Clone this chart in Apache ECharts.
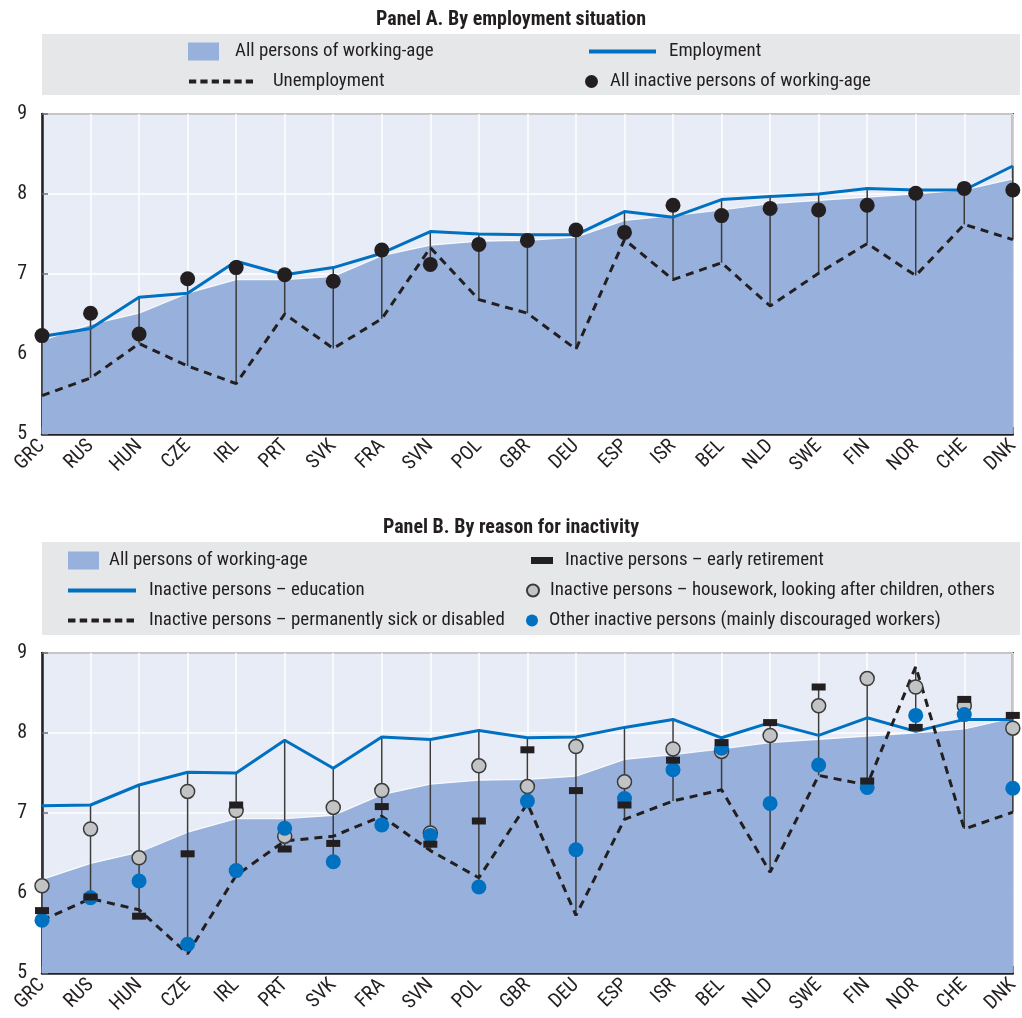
<!DOCTYPE html>
<html>
<head>
<meta charset="utf-8">
<script src="https://cdn.jsdelivr.net/npm/echarts@6/dist/echarts.min.js"></script>
<style>
html,body{margin:0;padding:0;background:#fff;}
#chart{width:1022px;height:1018px;}
</style>
</head>
<body>
<div id="chart"></div>
<script>
const categories = ['GRC','RUS','HUN','CZE','IRL','PRT','SVK','FRA','SVN','POL','GBR','DEU','ESP','ISR','BEL','NLD','SWE','FIN','NOR','CHE','DNK'];
const yTicks = [5, 6, 7, 8, 9];

// Panel A
const allPersons = [6.17,6.37,6.51,6.76,6.93,6.93,6.97,7.23,7.36,7.41,7.42,7.46,7.67,7.73,7.80,7.88,7.92,7.96,8.00,8.05,8.19];
const employment = [6.22,6.32,6.71,6.76,7.16,6.99,7.08,7.26,7.53,7.50,7.49,7.49,7.78,7.71,7.93,7.97,8.00,8.07,8.05,8.05,8.35];
const unemployment = [5.48,5.70,6.13,5.85,5.63,6.50,6.07,6.44,7.33,6.68,6.51,6.06,7.43,6.93,7.14,6.60,7.01,7.38,6.98,7.62,7.43];
const inactiveAll = [6.23,6.51,6.25,6.94,7.08,6.99,6.91,7.30,7.12,7.37,7.42,7.55,7.52,7.86,7.73,7.82,7.80,7.86,8.01,8.07,8.05];

// Panel B
const education = [7.09,7.10,7.35,7.51,7.50,7.91,7.56,7.95,7.92,8.03,7.94,7.95,8.07,8.17,7.94,8.13,7.97,8.19,8.02,8.17,8.17];
const sickDisabled = [5.66,5.93,5.79,5.24,6.22,6.65,6.71,6.96,6.53,6.19,7.12,5.72,6.92,7.15,7.29,6.26,7.47,7.35,8.83,6.80,7.01];
const earlyRetirement = [5.78,5.95,5.71,6.49,7.10,6.55,6.62,7.08,6.61,6.90,7.79,7.28,7.10,7.66,7.88,8.13,8.575,7.40,8.07,8.42,8.22];
const housework = [6.09,6.80,6.44,7.27,7.03,6.71,7.07,7.28,6.75,7.59,7.33,7.83,7.39,7.80,7.77,7.97,8.34,8.68,8.575,8.34,8.06];
const otherInactive = [5.66,5.94,6.15,5.36,6.28,6.81,6.39,6.85,6.72,6.075,7.15,6.54,7.18,7.54,7.81,7.12,7.60,7.32,8.22,8.23,7.31];

// ---- font choice: prefer a condensed face, size fitted to the reference text widths
const ctx = document.createElement('canvas').getContext('2d');
function available(name) {
  const t = 'abcdefghijklmnopqrstuvwxyz ABCDEFGHIJKLM 0123456789';
  for (const fb of ['monospace', 'serif']) {
    ctx.font = '40px ' + fb; const w1 = ctx.measureText(t).width;
    ctx.font = "40px '" + name + "', " + fb; const w2 = ctx.measureText(t).width;
    if (Math.abs(w1 - w2) > 0.5) return true;
  }
  return false;
}
const candidates = ['Roboto Condensed', 'DejaVu Sans Condensed', 'Liberation Sans Narrow', 'Arial Narrow', 'Roboto'];
const family = candidates.find(available) || 'sans-serif';
const FONT = "'" + family + "', sans-serif";
function fitSize(text, target, weight) {
  ctx.font = (weight || 'normal') + ' 100px ' + FONT;
  return 100 * target / ctx.measureText(text).width;
}
const legendSize = fitSize('Inactive persons – housework, looking after children, others', 445);
const titleSize = fitSize('Panel A. By employment situation', 270, 'bold');
const scale = legendSize / 18;
const axisSize = 19 * scale;

const DARK = '#231f20';
const AREA = '#97b1dc';
const BLUE = '#0070c0';
const PLOTBG = '#e8ecf6';

// legend icons (shapes only, scaled to itemWidth x itemHeight)
const SOLID_ICON = 'path://M0,0H60V1H0Z';
const DASH_ICON = 'path://M0,0h7v1h-7z M11,0h7v1h-7z M22,0h7v1h-7z M33,0h7v1h-7z M44,0h7v1h-7z M55,0h7v1h-7z';

function rangeData(seriesList) {
  return categories.map((c, i) => {
    const vals = seriesList.map(s => s[i]);
    return [i, Math.min(...vals), Math.max(...vals)];
  });
}

function rangeSeries(idx, seriesList) {
  return {
    type: 'custom', xAxisIndex: idx, yAxisIndex: idx, z: 3, silent: true,
    encode: { x: 0, y: [1, 2] },
    data: rangeData(seriesList),
    renderItem: function (params, api) {
      const x = api.value(0);
      const p1 = api.coord([x, api.value(1)]);
      const p2 = api.coord([x, api.value(2)]);
      return { type: 'line', shape: { x1: p1[0], y1: p1[1], x2: p2[0], y2: p2[1] },
        style: { stroke: '#3b3b3b', lineWidth: 1.5 } };
    }
  };
}

function xAxis(idx) {
  return {
    type: 'category', gridIndex: idx, data: categories, boundaryGap: false,
    axisLine: { show: true, lineStyle: { color: DARK, width: 2.5 } },
    axisTick: { show: true, inside: true, length: 7, lineStyle: { color: '#6d6e71', width: 1.5 } },
    axisLabel: { rotate: 45, fontSize: axisSize, color: DARK, fontFamily: FONT, margin: 9, interval: 0 },
    splitLine: { show: true, lineStyle: { color: '#ffffff', width: 1.5 } }
  };
}
function yAxis(idx) {
  return {
    type: 'value', gridIndex: idx, min: 5, max: 9, interval: 1,
    axisLine: { show: true, lineStyle: { color: DARK, width: 2.5 } },
    axisTick: { show: true, inside: true, length: 6, lineStyle: { color: '#6d6e71', width: 1.5 } },
    axisLabel: { fontSize: axisSize, color: DARK, fontFamily: FONT, margin: 15,
      formatter: v => (yTicks.indexOf(v) >= 0 ? String(v) : '') },
    splitLine: { show: true, lineStyle: { color: '#ffffff', width: 1.5 } }
  };
}

function leg(left, top, item, opts) {
  return Object.assign({
    left: left, top: top, padding: 0, selectedMode: false, orient: 'horizontal',
    symbolKeepAspect: false,
    data: [Object.assign({ symbolKeepAspect: false }, item)]
  }, opts || {});
}
function legPad(p) { return { fontSize: legendSize, color: DARK, fontFamily: FONT, padding: [0, 0, 0, p] }; }

const NAME_ALL = 'All persons of working-age';
const NAME_ALL_B = 'All persons of working-age ';

const option = {
  animation: false,
  backgroundColor: '#ffffff',
  title: [
    { text: 'Panel A. By employment situation', left: 'center', top: 5,
      textStyle: { fontSize: titleSize, fontWeight: 'bold', color: DARK, fontFamily: FONT } },
    { text: 'Panel B. By reason for inactivity', left: 'center', top: 513,
      textStyle: { fontSize: titleSize, fontWeight: 'bold', color: DARK, fontFamily: FONT } }
  ],
  graphic: [
    { type: 'rect', left: 42, top: 34, shape: { width: 978, height: 61 }, style: { fill: '#e6e7e8' }, z: -10 },
    { type: 'rect', left: 42, top: 542, shape: { width: 978, height: 93 }, style: { fill: '#e6e7e8' }, z: -10 }
  ],
  legend: [
    // Panel A
    leg(188, 42, { name: NAME_ALL, icon: 'rect', itemStyle: { color: AREA, borderWidth: 0 } },
      { itemWidth: 31, itemHeight: 18, textStyle: legPad(11) }),
    leg(589, 42, { name: 'Employment', icon: SOLID_ICON, itemStyle: { color: BLUE, borderWidth: 0 } },
      { itemWidth: 67, itemHeight: 4, textStyle: legPad(8) }),
    leg(189, 72, { name: 'Unemployment', icon: DASH_ICON, itemStyle: { color: DARK, borderWidth: 0 } },
      { itemWidth: 64, itemHeight: 4, textStyle: legPad(15) }),
    leg(585, 72, { name: 'All inactive persons of working-age', icon: 'circle' }, { itemWidth: 13, itemHeight: 13, textStyle: legPad(7) }),
    // Panel B
    leg(68, 551, { name: NAME_ALL_B, icon: 'rect', itemStyle: { color: AREA, borderWidth: 0 } },
      { itemWidth: 31, itemHeight: 18, textStyle: legPad(5) }),
    leg(68, 581, { name: 'Inactive persons – education', icon: SOLID_ICON, itemStyle: { color: BLUE, borderWidth: 0 } },
      { itemWidth: 68, itemHeight: 4, textStyle: legPad(8) }),
    leg(68, 611, { name: 'Inactive persons – permanently sick or disabled', icon: DASH_ICON, itemStyle: { color: DARK, borderWidth: 0 } },
      { itemWidth: 66, itemHeight: 4, textStyle: legPad(10) }),
    leg(531, 551, { name: 'Inactive persons – early retirement', icon: 'rect' }, { itemWidth: 22, itemHeight: 7, textStyle: legPad(7) }),
    leg(526, 581, { name: 'Inactive persons – housework, looking after children, others', icon: 'circle' }, { itemWidth: 12, itemHeight: 12, textStyle: legPad(6) }),
    leg(526, 611, { name: 'Other inactive persons (mainly discouraged workers)', icon: 'circle' }, { itemWidth: 12, itemHeight: 12, textStyle: legPad(6) })
  ],
  grid: [
    { left: 42, right: 2, top: 114, height: 320, show: true, backgroundColor: PLOTBG, borderColor: DARK, borderWidth: 2 },
    { left: 42, right: 2, top: 653, height: 320, show: true, backgroundColor: PLOTBG, borderColor: DARK, borderWidth: 2 }
  ],
  xAxis: [xAxis(0), xAxis(1)],
  yAxis: [yAxis(0), yAxis(1)],
  series: [
    // Panel A
    { name: NAME_ALL, type: 'line', xAxisIndex: 0, yAxisIndex: 0, data: allPersons, z: 1,
      symbol: 'none', lineStyle: { color: 'rgba(255,255,255,0.85)', width: 1.2 },
      itemStyle: { color: AREA }, areaStyle: { color: AREA, opacity: 1 } },
    rangeSeries(0, [employment, unemployment, inactiveAll]),
    { name: 'Employment', type: 'line', xAxisIndex: 0, yAxisIndex: 0, data: employment, z: 4,
      symbol: 'none', lineStyle: { color: BLUE, width: 3 }, itemStyle: { color: BLUE } },
    { name: 'Unemployment', type: 'line', xAxisIndex: 0, yAxisIndex: 0, data: unemployment, z: 4,
      symbol: 'none', lineStyle: { color: DARK, width: 3, type: [8, 6] }, itemStyle: { color: DARK } },
    { name: 'All inactive persons of working-age', type: 'scatter', xAxisIndex: 0, yAxisIndex: 0, data: inactiveAll, z: 6,
      symbol: 'circle', symbolSize: 15, itemStyle: { color: DARK, opacity: 1 } },
    // Panel B
    { name: NAME_ALL_B, type: 'line', xAxisIndex: 1, yAxisIndex: 1, data: allPersons, z: 1,
      symbol: 'none', lineStyle: { color: 'rgba(255,255,255,0.85)', width: 1.2 },
      itemStyle: { color: AREA }, areaStyle: { color: AREA, opacity: 1 } },
    rangeSeries(1, [education, sickDisabled, earlyRetirement, housework, otherInactive]),
    { name: 'Inactive persons – education', type: 'line', xAxisIndex: 1, yAxisIndex: 1, data: education, z: 4,
      symbol: 'none', lineStyle: { color: BLUE, width: 3 }, itemStyle: { color: BLUE } },
    { name: 'Inactive persons – permanently sick or disabled', type: 'line', xAxisIndex: 1, yAxisIndex: 1, data: sickDisabled, z: 4,
      symbol: 'none', lineStyle: { color: DARK, width: 3, type: [8, 6] }, itemStyle: { color: DARK } },
    { name: 'Inactive persons – housework, looking after children, others', type: 'scatter', xAxisIndex: 1, yAxisIndex: 1,
      data: housework, z: 5, symbol: 'circle', symbolSize: 14,
      itemStyle: { color: '#c2c3c5', borderColor: '#3b3b3b', borderWidth: 1.5, opacity: 1 } },
    { name: 'Other inactive persons (mainly discouraged workers)', type: 'scatter', xAxisIndex: 1, yAxisIndex: 1,
      data: otherInactive, z: 6, symbol: 'circle', symbolSize: 15, itemStyle: { color: BLUE, opacity: 1 } },
    { name: 'Inactive persons – early retirement', type: 'scatter', xAxisIndex: 1, yAxisIndex: 1,
      data: earlyRetirement, z: 7, symbol: 'rect', symbolSize: [14, 7], itemStyle: { color: DARK, opacity: 1 } }
  ]
};

const chart = echarts.init(document.getElementById('chart'), null, { renderer: 'canvas' });
chart.setOption(option);
</script>
</body>
</html>
